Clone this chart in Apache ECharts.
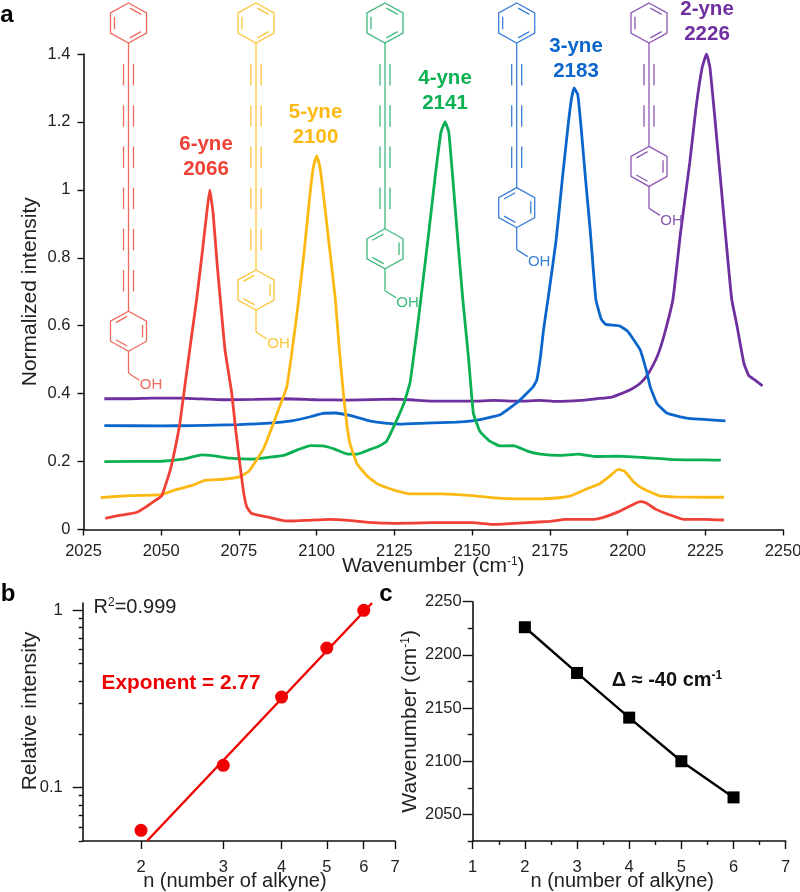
<!DOCTYPE html>
<html>
<head>
<meta charset="utf-8">
<style>
	html, body { margin: 0; padding: 0; background: #fff; }
	#main { width: 800px; height: 892px; }
</style>
<script src="https://cdn.jsdelivr.net/npm/echarts@6/dist/echarts.min.js"></script>
</head>
<body>
<div id="main"></div>
<script>
// panel a: spectra as [wavenumber, intensity]
var yne6 = [[2032,.033],[2037,.042],[2042,.05],[2045,.066],[2048,.085],[2050.2,.1],[2052.9,.175],[2054.5,.24],[2056,.313],[2058,.45],[2060,.585],[2061.4,.678],[2063,.8],[2064.5,.92],[2065.6,1],[2066.7,.93],[2068,.78],[2069,.678],[2070.5,.53],[2072.7,.4],[2074,.29],[2075.4,.185],[2076.5,.11],[2077.5,.067],[2079.1,.047],[2084,.037],[2089.3,.026],[2092,.025],[2097,.027],[2104,.03],[2110,.027],[2118,.02],[2125,.018],[2137,.02],[2150,.02],[2157,.015],[2165,.019],[2175,.024],[2180,.03],[2189,.03],[2192,.035],[2197,.052],[2201,.07],[2204,.082],[2206,.078],[2209,.06],[2213,.045],[2218,.03],[2225,.03],[2231,.028]];
var yne5 = [[2030.5,.094],[2040,.1],[2050,.103],[2055,.118],[2060,.13],[2064,.145],[2070,.148],[2075,.155],[2078,.17],[2080,.195],[2083,.24],[2086,.31],[2088,.36],[2090.4,.42],[2092,.52],[2094,.66],[2096,.82],[2098,1],[2099,1.07],[2100,1.1],[2101,1.07],[2102,1],[2103.5,.88],[2105,.76],[2106,.678],[2107.3,.53],[2108.6,.4],[2109.7,.31],[2110.7,.254],[2112.9,.195],[2116,.16],[2119.3,.136],[2122,.125],[2125.7,.114],[2130,.105],[2140,.105],[2150,.1],[2157,.093],[2165,.09],[2170,.09],[2176,.092],[2182,.1],[2187,.12],[2191,.135],[2194,.155],[2197,.177],[2199,.172],[2202,.14],[2205,.12],[2210,.1],[2215,.096],[2225,.095],[2231,.095]];
var yne4 = [[2031.7,.2],[2050,.201],[2057,.207],[2063,.22],[2067,.217],[2072,.21],[2079,.207],[2085,.213],[2090,.22],[2094,.235],[2098,.247],[2102,.246],[2106,.236],[2110,.222],[2113,.222],[2117,.235],[2120,.245],[2122.5,.26],[2125.8,.323],[2128,.37],[2130,.431],[2132.2,.58],[2133.5,.678],[2136,.87],[2138,1.03],[2140,1.17],[2141.3,1.2],[2142.5,1.17],[2144,1.01],[2145.5,.84],[2147,.678],[2148.8,.51],[2150.4,.343],[2152.5,.289],[2155.7,.26],[2159,.246],[2163.3,.247],[2168,.23],[2172,.222],[2178,.218],[2184,.222],[2190,.215],[2197,.216],[2205,.212],[2215,.206],[2225,.205],[2230,.204]];
var yne3 = [[2031.7,.306],[2050,.305],[2060,.306],[2075,.309],[2085,.313],[2092,.32],[2098,.332],[2102,.342],[2106,.343],[2111,.335],[2117,.32],[2122,.313],[2127,.31],[2135,.313],[2145,.316],[2150,.32],[2154.7,.328],[2159,.338],[2164.9,.377],[2169.6,.42],[2170.8,.44],[2172,.51],[2173,.59],[2174.4,.678],[2177,.85],[2179,1.03],[2181,1.2],[2182,1.27],[2182.8,1.3],[2184,1.28],[2185,1.19],[2186.5,1.03],[2188,.88],[2189.8,.678],[2191.5,.62],[2193,.604],[2197.3,.6],[2200,.584],[2204,.53],[2206,.47],[2207.3,.42],[2209.4,.372],[2212.6,.343],[2219,.328],[2231.5,.32]];
var yne2 = [[2031.7,.385],[2040,.385],[2047,.387],[2056,.387],[2070,.382],[2080,.383],[2090,.385],[2100,.382],[2110,.381],[2125,.384],[2130,.382],[2137,.378],[2150,.378],[2157,.38],[2165,.378],[2172,.38],[2177,.377],[2185,.38],[2190,.385],[2195,.39],[2198,.4],[2201,.412],[2204,.43],[2206,.45],[2208,.48],[2210,.52],[2212,.58],[2214.6,.678],[2217,.87],[2220,1.08],[2222,1.24],[2224,1.36],[2225.4,1.4],[2226.5,1.36],[2228,1.22],[2230,1.02],[2232,.82],[2233.5,.678],[2235.2,.6],[2237.4,.49],[2239,.453],[2241,.44],[2243.4,.423]];

// panel b
var nCounts = [2, 3, 4, 5, 6];
var relIntensity = [0.0574, 0.1336, 0.324, 0.613, 1];
var fitLine = [[2.06, 0.05], [6.25, 1.1]];
var bXTicks = [2, 3, 4, 5, 6, 7];
var bYMajor = [0.1, 1];
var bYMinor = [0.05, 0.06, 0.07, 0.08, 0.09, 0.2, 0.3, 0.4, 0.5, 0.6, 0.7, 0.8, 0.9];

// panel c
var peakWavenumber = [2226, 2183, 2141, 2100, 2066];
var cXMajor = [1, 2, 3, 4, 5, 6, 7];
var cXMinor = [1.5, 2.5, 3.5, 4.5, 5.5, 6.5];
var cYMajor = [2050, 2100, 2150, 2200, 2250];
var cYMinor = [2025, 2075, 2125, 2175, 2225];

var FONT = '"Liberation Sans", Arial, sans-serif';
var RED = '#ef4136', YELLOW = '#fdb913', GREEN = '#0bb052', BLUE = '#0b66cc', PURPLE = '#6f2f9f';
var INK = '#222';

function zip(xs, ys) {
	return xs.map(function(x, i) { return [x, ys[i]]; });
}

function plain(v) {
	return String(v);
}

function txt(str, x, y, size, color, bold, extra) {
	var o = {
		type: 'text', silent: true, z: 20,
		style: {
			text: str, x: x, y: y, fill: color, fontSize: size, fontFamily: FONT,
			fontWeight: bold ? 'bold' : 'normal', align: 'center', verticalAlign: 'middle'
		}
	};
	if (extra) o.style.rich = extra;
	return o;
}

function seg(x1, y1, x2, y2, color) {
	return {
		type: 'line', silent: true, z: 1,
		shape: { x1: x1, y1: y1, x2: x2, y2: y2 },
		style: { stroke: color, lineWidth: 1.3 }
	};
}

// benzene ring, inner bonds drawn on the edges listed in sides
function ring(out, cx, cy, color, sides) {
	var R = 20, pts = [];
	for (var i = 0; i < 6; i++) {
		var a = (-90 + 60 * i) * Math.PI / 180;
		pts.push([cx + R * 1.04 * Math.cos(a), cy + R * Math.sin(a)]);
	}
	out.push({
		type: 'polygon', silent: true, z: 1,
		shape: { points: pts },
		style: { stroke: color, fill: 'none', lineWidth: 1.3 }
	});
	sides.forEach(function(s) {
		var p = pts[s], q = pts[(s + 1) % 6];
		var px = cx + (p[0] - cx) * 0.78, py = cy + (p[1] - cy) * 0.78;
		var qx = cx + (q[0] - cx) * 0.78, qy = cy + (q[1] - cy) * 0.78;
		out.push(seg(px + (qx - px) * 0.1, py + (qy - py) * 0.1, px + (qx - px) * 0.9, py + (qy - py) * 0.9, color));
	});
}

function molecule(out, cx, n, color) {
	ring(out, cx, 23, color, [0, 2, 4]);
	var lowerTop = 64 + 41.2 * n;
	out.push(seg(cx, 43, cx, lowerTop, color));
	for (var i = 0; i < n; i++) {
		var y = 64 + 41.2 * i;
		out.push(seg(cx - 5, y, cx - 5, y + 21.5, color));
		out.push(seg(cx + 5, y, cx + 5, y + 21.5, color));
	}
	ring(out, cx, lowerTop + 20, color, [1, 3, 5]);
	out.push(seg(cx, lowerTop + 40, cx, lowerTop + 62, color));
	out.push(seg(cx, lowerTop + 62, cx + 11, lowerTop + 69, color));
	out.push(txt('OH', cx + 22.5, lowerTop + 74, 15, color, false));
}

var sup = { fontSize: 12, verticalAlign: 'top', fontFamily: FONT, fill: INK, padding: [0, 0, 6, 0] };
var graphics = [];
molecule(graphics, 128.5, 6, '#ee6a5c');
molecule(graphics, 256, 5, '#fcc63c');
molecule(graphics, 385, 4, '#3fb97c');
molecule(graphics, 516.7, 3, '#3b80d6');
molecule(graphics, 649, 2, '#8b58b3');

[['6-yne', '2066', 206, 144, RED], ['5-yne', '2100', 315.5, 112, YELLOW], ['4-yne', '2141', 445, 78, GREEN],
 ['3-yne', '2183', 576, 46, BLUE], ['2-yne', '2226', 707, 9, PURPLE]].forEach(function(p) {
	graphics.push(txt(p[0], p[2], p[3], 20.5, p[4], true));
	graphics.push(txt(p[1], p[2], p[3] + 25, 20.5, p[4], true));
});
graphics.push(txt('a', 7, 15, 24, '#000', true));
graphics.push(txt('b', 8, 594, 24, '#000', true));
graphics.push(txt('c', 386, 594, 24, '#000', true));
graphics.push(txt('R{s|2}=0.999', 135, 607, 20, INK, false, { s: { fontSize: 12, verticalAlign: 'top', fill: INK, fontFamily: FONT, padding: [0, 0, 6, 0] } }));
graphics.push(txt('Exponent = 2.77', 181, 683, 20.8, '#f00000', true));
graphics.push(txt('\u0394 \u2248 -40 cm{s|-1}', 667, 680, 20, '#111', true, { s: { fontSize: 12, fontWeight: 'bold', verticalAlign: 'top', fill: '#111', fontFamily: FONT, padding: [0, 0, 6, 0] } }));

var axisLine = { show: true, onZero: false, lineStyle: { color: '#111', width: 1.6 } };
var tickStyle = { color: '#111', width: 1.4 };
var labelBase = { color: INK, fontSize: 16.5, fontFamily: FONT };
var nameBase = { color: INK, fontSize: 21, fontFamily: FONT, rich: { sup: sup } };

function spectrum(data, color) {
	return {
		type: 'line', data: data, xAxisIndex: 0, yAxisIndex: 0, showSymbol: false, symbol: 'none',
		smooth: 0.12, lineStyle: { color: color, width: 2.8 }, silent: true
	};
}

var option = {
	animation: false,
	backgroundColor: '#fff',
	textStyle: { fontFamily: FONT },
	grid: [
		{ left: 83.5, top: 54, width: 699.5, height: 475.5, outerBoundsMode: 'none' },
		{ left: 82.7, top: 603, width: 312.3, height: 238, outerBoundsMode: 'none' },
		{ left: 472.7, top: 601.7, width: 313, height: 239.3, outerBoundsMode: 'none' }
	],
	xAxis: [
		{
			gridIndex: 0, type: 'value', position: 'bottom', min: 2025, max: 2250, interval: 25, splitLine: { show: false },
			axisLine: axisLine, axisTick: { length: 6, lineStyle: tickStyle },
			axisLabel: Object.assign({ margin: 13, showMinLabel: true, showMaxLabel: true, formatter: plain }, labelBase),
			name: 'Wavenumber (cm{sup|-1})', nameLocation: 'middle', nameGap: 26, nameMoveOverlap: false, nameTextStyle: nameBase
		},
		{
			gridIndex: 1, type: 'log', logBase: 10, position: 'bottom', min: 1.5, max: 7, splitLine: { show: false },
			axisLine: axisLine, axisTick: { length: 8, lineStyle: tickStyle, customValues: bXTicks },
			axisLabel: Object.assign({ margin: 18, customValues: bXTicks }, labelBase),
			minorTick: { show: false },
			name: 'n (number of alkyne)', nameLocation: 'middle', nameGap: 30, nameMoveOverlap: false,
			nameTextStyle: { color: INK, fontSize: 20, fontFamily: FONT, padding: [0, 8, 0, 0] }
		},
		{
			gridIndex: 2, type: 'value', position: 'bottom', min: 1, max: 7, interval: 1, splitLine: { show: false },
			axisLine: axisLine, axisTick: { length: 8, lineStyle: tickStyle, customValues: cXMajor },
			axisLabel: Object.assign({ margin: 18, customValues: cXMajor }, labelBase),
			name: 'n (number of alkyne)', nameLocation: 'middle', nameGap: 30, nameMoveOverlap: false,
			nameTextStyle: { color: INK, fontSize: 20, fontFamily: FONT, padding: [0, 14, 0, 0] }
		},
		{
			gridIndex: 2, type: 'value', position: 'bottom', min: 1, max: 7, interval: 1, splitLine: { show: false },
			axisLine: { show: false, onZero: false }, axisTick: { length: 4, lineStyle: tickStyle, customValues: cXMinor },
			axisLabel: { show: false }
		}
	],
	yAxis: [
		{
			gridIndex: 0, type: 'value', position: 'left', min: 0, max: 1.4, interval: 0.2, splitLine: { show: false },
			axisLine: axisLine, axisTick: { length: 6, lineStyle: tickStyle },
			axisLabel: Object.assign({ margin: 13, showMinLabel: true }, labelBase),
			name: 'Normalized intensity', nameLocation: 'middle', nameGap: 43, nameMoveOverlap: false, nameRotate: 90, nameTextStyle: nameBase
		},
		{
			gridIndex: 1, type: 'log', logBase: 10, position: 'left', min: 0.05, max: 1.1, splitLine: { show: false },
			axisLine: axisLine, axisTick: { length: 10, lineStyle: tickStyle, customValues: bYMajor },
			axisLabel: Object.assign({ margin: 20, customValues: bYMajor }, labelBase),
			name: 'Relative intensity', nameLocation: 'middle', nameGap: 42, nameMoveOverlap: false, nameRotate: 90,
			nameTextStyle: { color: INK, fontSize: 21, fontFamily: FONT, padding: [0, 0, 0, 22] }
		},
		{
			gridIndex: 1, type: 'log', logBase: 10, position: 'left', min: 0.05, max: 1.1, splitLine: { show: false },
			axisLine: { show: false, onZero: false }, axisTick: { length: 4, lineStyle: tickStyle, customValues: bYMinor },
			axisLabel: { show: false }
		},
		{
			gridIndex: 2, type: 'value', position: 'left', min: 2025, max: 2250, interval: 25, splitLine: { show: false },
			axisLine: axisLine, axisTick: { length: 10, lineStyle: tickStyle, customValues: cYMajor },
			axisLabel: Object.assign({ margin: 11, customValues: cYMajor, formatter: plain }, labelBase),
			name: 'Wavenumber (cm{sup|-1})', nameLocation: 'middle', nameGap: 52, nameMoveOverlap: false, nameRotate: 90, nameTextStyle: nameBase
		},
		{
			gridIndex: 2, type: 'value', position: 'left', min: 2025, max: 2250, interval: 25, splitLine: { show: false },
			axisLine: { show: false, onZero: false }, axisTick: { length: 5, lineStyle: tickStyle, customValues: cYMinor },
			axisLabel: { show: false }
		}
	],
	series: [
		spectrum(yne2, PURPLE),
		spectrum(yne3, BLUE),
		spectrum(yne4, GREEN),
		spectrum(yne5, YELLOW),
		spectrum(yne6, RED),
		{
			type: 'line', data: fitLine, xAxisIndex: 1, yAxisIndex: 1, symbol: 'none', silent: true,
			lineStyle: { color: '#f00000', width: 2.4 }
		},
		{
			type: 'scatter', data: zip(nCounts, relIntensity), xAxisIndex: 1, yAxisIndex: 1, symbol: 'circle',
			symbolSize: 13, itemStyle: { color: '#f00000', opacity: 1 }, silent: true
		},
		{
			type: 'line', data: zip(nCounts, peakWavenumber), xAxisIndex: 2, yAxisIndex: 3, symbol: 'rect',
			symbolSize: 12, showAllSymbol: true, silent: true,
			lineStyle: { color: '#000', width: 2.4 }, itemStyle: { color: '#000' }
		}
	],
	graphic: graphics
};

var myChart = echarts.init(document.getElementById('main'));
myChart.setOption(option, true);
</script>
</body>
</html>
